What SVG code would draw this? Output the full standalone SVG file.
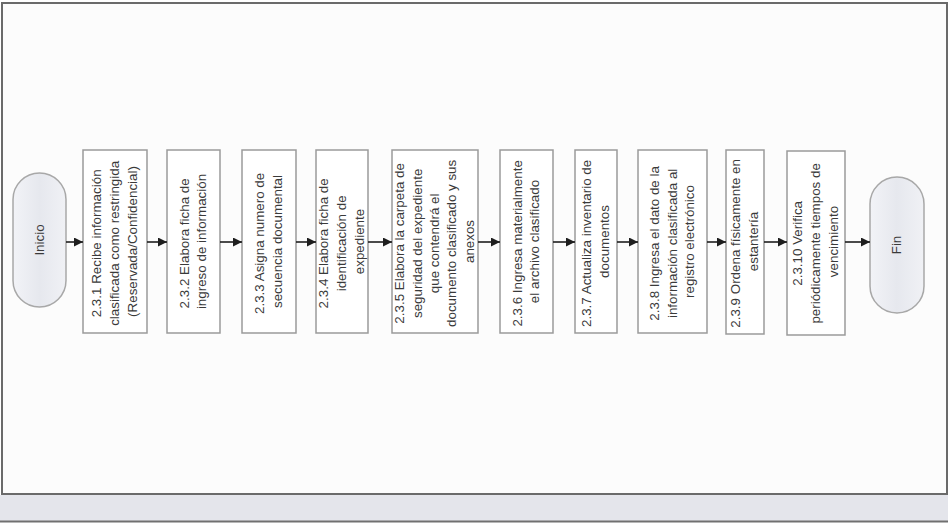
<svg xmlns="http://www.w3.org/2000/svg" width="948" height="524" viewBox="0 0 948 524">
  <defs>
    <marker id="arrow" viewBox="0 0 10 10" refX="10" refY="5" markerWidth="9" markerHeight="9" markerUnits="userSpaceOnUse" orient="auto">
      <path d="M0,0 L10,5 L0,10 z" fill="#1e1e1e"/>
    </marker>
    <linearGradient id="pill" x1="0" y1="0" x2="1" y2="0">
      <stop offset="0" stop-color="#f2f3f7"/>
      <stop offset="0.5" stop-color="#e6e8ee"/>
      <stop offset="1" stop-color="#f0f1f5"/>
    </linearGradient>
  </defs>
  <style>
    .frame { fill: #fcfcfc; stroke: #6a6a6a; stroke-width: 2; }
    .band { fill: #e4e5eb; }
    .rule { stroke: #707070; stroke-width: 2; }
    .box { fill: #ffffff; stroke: #9a9a9a; stroke-width: 1.5; }
    .term { fill: url(#pill); stroke: #a8a8a8; stroke-width: 1.5; }
    .lbl { font-family: "Liberation Sans", Arial, sans-serif; font-size: 12.5px; fill: #3a3a3a; text-anchor: middle; }
    .conn line { stroke: #1e1e1e; stroke-width: 1.6; marker-end: url(#arrow); }
  </style>

  <!-- page frame and bottom band -->
  <rect class="frame" x="2" y="3" width="945" height="491"/>
  <rect class="band" x="0" y="495" width="948" height="26"/>
  <line class="rule" x1="0" y1="521.5" x2="948" y2="521.5"/>

  <!-- start terminator -->
  <g id="inicio">
    <rect class="term" x="13" y="173" width="53" height="134" rx="26.5" ry="26.5"/>
    <text class="lbl" transform="translate(39.5,240) rotate(-90) scale(1.07,1)" y="4">Inicio</text>
  </g>

  <g id="p231">
    <rect class="box" x="83" y="150" width="64" height="183"/>
    <text class="lbl" transform="translate(115,241.5) rotate(-90) scale(1.07,1)">
      <tspan x="0" y="-14">2.3.1 Recibe información</tspan>
      <tspan x="0" y="4">clasificada como restringida</tspan>
      <tspan x="0" y="22">(Reservada/Confidencial)</tspan>
    </text>
  </g>

  <g id="p232">
    <rect class="box" x="167" y="150" width="53" height="183"/>
    <text class="lbl" transform="translate(193.5,241.5) rotate(-90) scale(1.07,1)">
      <tspan x="0" y="-5">2.3.2 Elabora ficha de</tspan>
      <tspan x="0" y="13">ingreso de información</tspan>
    </text>
  </g>

  <g id="p233">
    <rect class="box" x="242" y="150" width="54" height="183"/>
    <text class="lbl" transform="translate(269,241.5) rotate(-90) scale(1.07,1)">
      <tspan x="0" y="-5">2.3.3 Asigna numero de</tspan>
      <tspan x="0" y="13">secuencia documental</tspan>
    </text>
  </g>

  <g id="p234">
    <rect class="box" x="316" y="150" width="52" height="183"/>
    <text class="lbl" transform="translate(342,241.5) rotate(-90) scale(1.07,1)">
      <tspan x="0" y="-14">2.3.4 Elabora ficha de</tspan>
      <tspan x="0" y="4">identificación de</tspan>
      <tspan x="0" y="22">expediente</tspan>
    </text>
  </g>

  <g id="p235">
    <rect class="box" x="392" y="150" width="86" height="183"/>
    <text class="lbl" transform="translate(435,241.5) rotate(-90) scale(1.07,1)">
      <tspan x="0" y="-31">2.3.5 Elabora la carpeta de</tspan>
      <tspan x="0" y="-13.5">seguridad del expediente</tspan>
      <tspan x="0" y="4">que contendrá el</tspan>
      <tspan x="0" y="21.5">documento clasificado y sus</tspan>
      <tspan x="0" y="39">anexos</tspan>
    </text>
  </g>

  <g id="p236">
    <rect class="box" x="500" y="150" width="53" height="183"/>
    <text class="lbl" transform="translate(526.5,241.5) rotate(-90) scale(1.07,1)">
      <tspan x="0" y="-5">2.3.6 Ingresa materialmente</tspan>
      <tspan x="0" y="13">el archivo clasificado</tspan>
    </text>
  </g>

  <g id="p237">
    <rect class="box" x="575" y="150" width="42" height="183"/>
    <text class="lbl" transform="translate(596,241.5) rotate(-90) scale(1.07,1)">
      <tspan x="0" y="-5">2.3.7 Actualiza inventario de</tspan>
      <tspan x="0" y="13">documentos</tspan>
    </text>
  </g>

  <g id="p238">
    <rect class="box" x="638" y="150" width="69" height="183"/>
    <text class="lbl" transform="translate(672.5,241.5) rotate(-90) scale(1.07,1)">
      <tspan x="0" y="-14">2.3.8 Ingresa el dato de la</tspan>
      <tspan x="0" y="4">información clasificada al</tspan>
      <tspan x="0" y="22">registro electrónico</tspan>
    </text>
  </g>

  <g id="p239">
    <rect class="box" x="726" y="150" width="38" height="184"/>
    <text class="lbl" transform="translate(745,241.5) rotate(-90) scale(1.07,1)">
      <tspan x="0" y="-5">2.3.9 Ordena físicamente en</tspan>
      <tspan x="0" y="13">estantería</tspan>
    </text>
  </g>

  <g id="p2310">
    <rect class="box" x="787" y="151" width="58" height="184"/>
    <text class="lbl" transform="translate(816,241.5) rotate(-90) scale(1.07,1)">
      <tspan x="0" y="-14">2.3.10 Verifica</tspan>
      <tspan x="0" y="4">periódicamente tiempos de</tspan>
      <tspan x="0" y="22">vencimiento</tspan>
    </text>
  </g>

  <!-- end terminator -->
  <g id="fin">
    <rect class="term" x="870" y="177" width="54" height="136" rx="27" ry="27"/>
    <text class="lbl" transform="translate(897,245) rotate(-90) scale(1.07,1)" y="4">Fin</text>
  </g>

  <!-- connectors -->
  <g id="connectors" class="conn">
    <line x1="66" y1="242" x2="83" y2="242"/>
    <line x1="147" y1="242" x2="167" y2="242"/>
    <line x1="220" y1="242" x2="242" y2="242"/>
    <line x1="296" y1="242" x2="316" y2="242"/>
    <line x1="368" y1="242" x2="392" y2="242"/>
    <line x1="478" y1="242" x2="500" y2="242"/>
    <line x1="553" y1="242" x2="575" y2="242"/>
    <line x1="617" y1="242" x2="638" y2="242"/>
    <line x1="707" y1="242" x2="726" y2="242"/>
    <line x1="764" y1="242" x2="787" y2="242"/>
    <line x1="845" y1="242" x2="870" y2="242"/>
  </g>
</svg>
